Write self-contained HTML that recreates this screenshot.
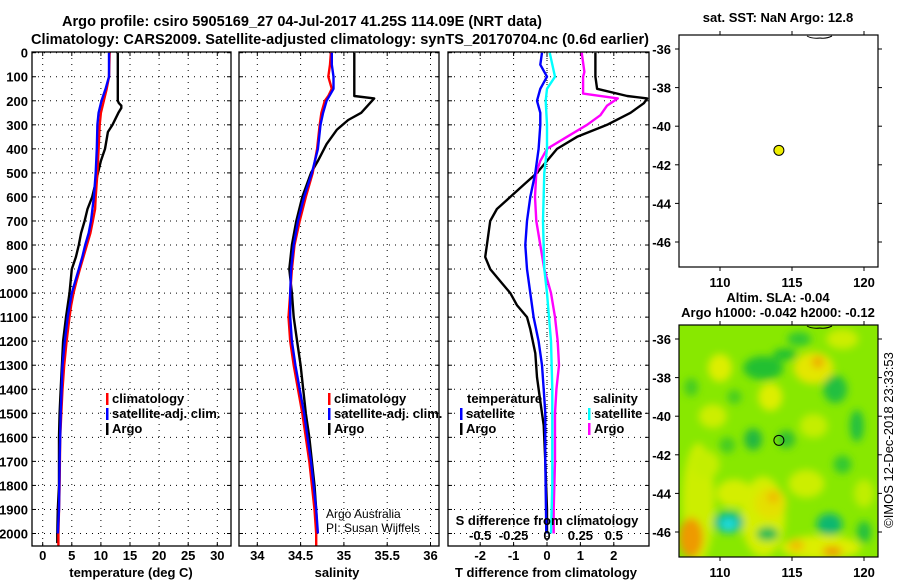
<!DOCTYPE html>
<html><head><meta charset="utf-8">
<style>
html,body{margin:0;padding:0;background:#fff;}
svg{display:block;font-family:"Liberation Sans",sans-serif;font-weight:bold;}
</style></head>
<body>
<svg id="c" width="900" height="580" viewBox="0 0 900 580" xmlns="http://www.w3.org/2000/svg">
<defs>
<filter id="blur" x="-20%" y="-20%" width="140%" height="140%"><feGaussianBlur stdDeviation="4"/></filter>
<clipPath id="clip1"><rect x="32" y="52" width="199" height="494"/></clipPath>
<clipPath id="clip2"><rect x="239" y="52" width="200" height="494"/></clipPath>
<clipPath id="clip3"><rect x="448" y="52" width="201" height="494"/></clipPath>
<clipPath id="clipmap"><rect x="679" y="325" width="199" height="232"/></clipPath>
</defs>
<text x="302" y="26" font-size="14.5" text-anchor="middle" textLength="480">Argo profile: csiro 5905169_27 04-Jul-2017 41.25S 114.09E (NRT data)</text>
<text x="340" y="44" font-size="14.5" text-anchor="middle" textLength="618">Climatology: CARS2009. Satellite-adjusted climatology: synTS_20170704.nc (0.6d earlier)</text>
<g id="g"></g>
</svg>
<script>
// ---------- data (depth in m) ----------
const tArgoDepth = [0,100,150,200,210,220,230,250,300,330,400,450,500,550,600,650,700,750,800,850,900,1000,1100,1200,1300,1400,1500,1600,1700,1800,1900,2000,2040];
const tArgo      = [12.9,12.9,12.9,12.9,13.1,13.5,13.5,13.0,12.0,11.2,10.7,10.0,9.5,9.0,8.5,7.7,7.2,6.6,6.2,5.7,5.0,4.6,4.0,3.5,3.3,3.1,2.9,2.8,2.8,2.8,2.6,2.5,2.5];
const tClimDepth = [0,100,150,200,250,300,400,500,600,650,700,750,800,850,900,950,1000,1050,1100,1200,1300,1400,1500,1600,1800,2000,2050];
const tClim      = [11.5,11.4,11.0,10.5,10.0,9.8,9.6,9.4,9.1,9.0,8.6,8.2,7.6,7.0,6.4,5.8,5.3,4.9,4.6,4.1,3.7,3.4,3.2,3.0,2.9,2.7,2.7];
const tSatDepth  = [0,100,150,200,250,300,400,500,600,700,750,800,850,900,950,1000,1100,1200,1300,1500,1700,1900,2000];
const tSat       = [11.4,11.4,10.8,10.1,9.6,9.4,9.3,9.1,8.8,8.3,7.9,7.3,6.8,6.2,5.6,5.0,4.3,3.8,3.4,3.1,2.9,2.8,2.6];

const sArgoDepth = [0,180,190,210,250,280,320,380,450,500,600,700,800,900,1000,1100,1200,1300,1400,1500,1600,1700,1800,1900,2000];
const sArgo      = [35.12,35.12,35.35,35.3,35.2,35.05,34.92,34.8,34.7,34.62,34.52,34.45,34.4,34.37,34.4,34.42,34.46,34.5,34.53,34.56,34.6,34.63,34.66,34.68,34.69];
const sClimDepth = [0,50,100,150,180,200,250,300,400,500,600,700,800,900,1000,1100,1200,1300,1400,1500,1600,1700,1800,1900,2000,2050];
const sClim      = [34.85,34.84,34.82,34.86,34.82,34.78,34.74,34.72,34.69,34.64,34.56,34.49,34.43,34.4,34.38,34.36,34.38,34.42,34.47,34.52,34.56,34.6,34.63,34.66,34.68,34.68];
const sSatDepth  = [0,50,100,150,200,250,300,400,500,600,700,800,900,1000,1100,1200,1300,1400,1500,1600,1700,1800,1900,2000];
const sSat       = [34.86,34.86,34.88,34.88,34.8,34.76,34.73,34.7,34.63,34.54,34.47,34.42,34.39,34.38,34.38,34.4,34.44,34.49,34.54,34.58,34.62,34.65,34.68,34.7];

const dtArgoDepth = [0,100,150,180,190,210,250,300,350,400,450,500,550,650,700,800,850,900,950,1000,1050,1100,1150,1250,1350,1450,1550,1700,1900,2000];
const dtArgo      = [1.45,1.45,1.5,2.4,3.0,2.9,2.5,1.8,0.9,0.3,0.0,-0.3,-0.7,-1.5,-1.7,-1.8,-1.85,-1.7,-1.4,-1.1,-0.9,-0.6,-0.5,-0.35,-0.3,-0.2,-0.1,-0.05,0.0,0.0];
const dtSatDepth  = [0,50,100,150,200,250,300,400,500,600,700,800,900,1000,1100,1200,1300,1400,1500,1700,2000];
const dtSat       = [-0.15,-0.2,0.0,-0.2,-0.3,-0.2,-0.2,-0.25,-0.35,-0.5,-0.6,-0.65,-0.6,-0.5,-0.4,-0.25,-0.15,-0.1,-0.05,-0.05,-0.02];
const dsSatDepth  = [0,100,150,200,300,400,500,700,900,1000,1200,1400,1600,1800,2000];
const dsSat       = [0.02,0.06,0.0,-0.01,0.0,0.0,-0.02,-0.03,-0.02,0.0,0.03,0.04,0.04,0.04,0.03];
const dsArgoDepth = [0,80,100,170,190,220,260,300,350,400,450,500,600,700,800,900,1000,1100,1200,1300,1400,1500,1700,1900,2000];
const dsArgo      = [0.26,0.28,0.27,0.27,0.53,0.45,0.4,0.3,0.15,0.0,-0.05,-0.08,-0.09,-0.08,-0.05,-0.02,0.03,0.06,0.08,0.09,0.07,0.06,0.06,0.05,0.05];

const depthTicks = [0,100,200,300,400,500,600,700,800,900,1000,1100,1200,1300,1400,1500,1600,1700,1800,1900,2000];
const tempTicks = [0,5,10,15,20,25,30];
const salTicks = [34,34.5,35,35.5,36];
const salTickLabels = ["34","34.5","35","35.5","36"];
const dtTicks = [-2,-1,0,1,2];
const dsTicks = [-0.5,-0.25,0,0.25,0.5];
const dsTickLabels = ["-0.5","-0.25","0","0.25","0.5"];
const latTicks = [-36,-38,-40,-42,-44,-46];
const lonTicks = [110,115,120];
const floatLon = 114.09, floatLat = -41.25;

// ---------- axes ----------
const TOP=52, BOT=546;
const yD = d => 52.7 + d*0.2404;
const xT = t => 42.7 + t*5.82;
const xS = s => 257.3 + (s-34)*86.6;
const xDT = t => 547 + t*33.4;
const xDS = s => 547 + s*133.6;
const xLon = l => 720 + (l-110)*14.4;
const yLat1 = a => 49 + (-36-a)*19.3;
const yLat2 = a => 339 + (-36-a)*19.3;

const NS="http://www.w3.org/2000/svg";
const G=document.getElementById('g');
function el(tag,attrs,parent){const e=document.createElementNS(NS,tag);for(const k in attrs)e.setAttribute(k,attrs[k]);(parent||G).appendChild(e);return e;}
function txt(x,y,s,size,anchor,parent){const e=el('text',{x:x,y:y,'font-size':size,'text-anchor':anchor||'start'},parent);e.textContent=s;return e;}

function frame(x0,x1,name){
  const r=el('rect',{x:x0,y:TOP,width:x1-x0,height:BOT-TOP,fill:'none',stroke:'#000','stroke-width':1.3});
  
  
}
function hgrid(x0,x1){
  depthTicks.forEach(d=>{
    const y=yD(d);
    el('line',{x1:x0,x2:x1,y1:y,y2:y,stroke:'#000','stroke-width':1,'stroke-dasharray':'1,5'});
    el('line',{x1:x0,x2:x0+4,y1:y,y2:y,stroke:'#000'});
    el('line',{x1:x1-4,x2:x1,y1:y,y2:y,stroke:'#000'});
  });
}
function vgrid(vals,fx){
  vals.forEach(v=>{
    const x=fx(v);
    el('line',{x1:x,x2:x,y1:TOP,y2:BOT,stroke:'#000','stroke-width':1,'stroke-dasharray':'1,5'});
    el('line',{x1:x,x2:x,y1:TOP,y2:TOP+4,stroke:'#000'});
    el('line',{x1:x,x2:x,y1:BOT-4,y2:BOT,stroke:'#000'});
  });
}
function profile(depths,vals,fx,color,clip,name){
  let pts=[];
  for(let i=0;i<depths.length;i++){pts.push(fx(vals[i]).toFixed(1)+','+yD(depths[i]).toFixed(1));}
  const p=el('polyline',{points:pts.join(' '),fill:'none',stroke:color,'stroke-width':2.4,'stroke-linejoin':'round','clip-path':'url(#'+clip+')'});
  
  
}
function legend(x,y,color,label,name){
  el('rect',{x:x,y:y-10,width:2.5,height:12,fill:color});
  const t=txt(x+6,y,label,13);
  
  
}

// y axis labels
depthTicks.forEach(d=>{
  const t=txt(28,yD(d)+5,String(d),13,'end');
  
  
});

// Panel 1 temperature
hgrid(32,231); vgrid(tempTicks,xT);
profile(tArgoDepth,tArgo,xT,'#000','clip1','argo-temperature-line');
profile(tClimDepth,tClim,xT,'#ff0000','clip1','climatology-temperature-line');
profile(tSatDepth,tSat,xT,'#0000ff','clip1','satellite-temperature-line');
frame(32,231,'temperature-panel');
tempTicks.forEach(v=>{const t=txt(xT(v),560,String(v),13,'middle');});
{const t=txt(131,577,'temperature (deg C)',13,'middle');}
legend(106,403,'#ff0000','climatology','legend-climatology-temp');
legend(106,418,'#0000ff','satellite-adj. clim.','legend-satellite-temp');
legend(106,433,'#000','Argo','legend-argo-temp');

// Panel 2 salinity
hgrid(239,439); vgrid(salTicks,xS);
profile(sArgoDepth,sArgo,xS,'#000','clip2','argo-salinity-line');
profile(sClimDepth,sClim,xS,'#ff0000','clip2','climatology-salinity-line');
profile(sSatDepth,sSat,xS,'#0000ff','clip2','satellite-salinity-line');
frame(239,439,'salinity-panel');
salTicks.forEach((v,i)=>{const t=txt(xS(v),560,salTickLabels[i],13,'middle');});
{const t=txt(337,577,'salinity',13,'middle');}
legend(328,403,'#ff0000','climatology','legend-climatology-sal');
legend(328,418,'#0000ff','satellite-adj. clim.','legend-satellite-sal');
legend(328,433,'#000','Argo','legend-argo-sal');
{const t=el('text',{x:326,y:518,'font-size':12,'font-weight':'normal'});t.textContent='Argo Australia';}
{const t=el('text',{x:326,y:532,'font-size':12,'font-weight':'normal'});t.textContent='PI: Susan Wijffels';}

// Panel 3 differences
hgrid(448,649); vgrid(dtTicks,xDT);
el('line',{x1:547,x2:547,y1:TOP,y2:BOT,stroke:'#000','stroke-width':1,'stroke-dasharray':'1,3'});
profile(dtArgoDepth,dtArgo,xDT,'#000','clip3','argo-temp-diff-line');
profile(dsArgoDepth,dsArgo,xDS,'#ff00ff','clip3','argo-sal-diff-line');
profile(dtSatDepth,dtSat,xDT,'#0000ff','clip3','satellite-temp-diff-line');
profile(dsSatDepth,dsSat,xDS,'#00ffff','clip3','satellite-sal-diff-line');
frame(448,649,'difference-panel');
{const t=txt(467,403,'temperature',13);}
legend(460,418,'#0000ff','satellite','legend-satellite-tdiff');
legend(460,433,'#000','Argo','legend-argo-tdiff');
{const t=txt(593,403,'salinity',13);}
legend(588,418,'#00ffff','satellite','legend-satellite-sdiff');
legend(588,433,'#ff00ff','Argo','legend-argo-sdiff');
{const t=txt(547,525,'S difference from climatology',13,'middle');}
dsTicks.forEach((v,i)=>{const t=txt(xDS(v),540,dsTickLabels[i],13,'middle');});
dtTicks.forEach(v=>{const t=txt(xDT(v),560,String(v),13,'middle');});
{const t=txt(546,577,'T difference from climatology',13,'middle');}

// ---------- maps ----------
function mapAxes(y0,y1,yLat,name){
  const r=el('rect',{x:679,y:y0,width:199,height:y1-y0,fill:'none',stroke:'#000','stroke-width':1.2});
  
  
  latTicks.forEach(a=>{
    const y=yLat(a);
    el('line',{x1:675,x2:679,y1:y,y2:y,stroke:'#000'});
    el('line',{x1:878,x2:882,y1:y,y2:y,stroke:'#000'});
    const t=txt(671,y+5,String(a),13,'end');
    
    
  });
  lonTicks.forEach(l=>{
    const x=xLon(l);
    el('line',{x1:x,x2:x,y1:y0-4,y2:y0,stroke:'#000'});
    el('line',{x1:x,x2:x,y1:y1,y2:y1+4,stroke:'#000'});
    const t=txt(x,y1+20,String(l),13,'middle');
    
    
  });
}
// SST map
{const t=txt(778,22,'sat. SST: NaN Argo: 12.8',13,'middle');}
el('path',{d:'M807 36 Q812 39 820 38 Q826 39 832 36',fill:'none',stroke:'#000','stroke-width':1});
mapAxes(35,267,yLat1,'sst-map');
{const c=el('circle',{cx:xLon(floatLon),cy:yLat1(floatLat),r:5,fill:'#eeee00',stroke:'#000','stroke-width':1});}

// SLA map
{const t=txt(778,302,'Altim. SLA: -0.04',13,'middle');}
{const t=txt(778,317,'Argo h1000: -0.042 h2000: -0.12',13,'middle');}
const hm=el('g',{'clip-path':'url(#clipmap)'});


el('rect',{x:679,y:325,width:199,height:232,fill:'#88e800'},hm);
const fb=el('g',{filter:'url(#blur)'},hm);
const blobs=[
 [108.5,-44.5,16,60,'#ccee00'],[113,-45.2,22,40,'#d4ee00'],[117,-46.8,40,12,'#ddee00'],
 [110,-37.5,12,14,'#ddee00'],[109.5,-40,14,12,'#ccee00'],[113.5,-39,12,14,'#ddee00'],[116.5,-37.5,20,16,'#e4e600'],
 [118.5,-36,16,10,'#ccee00'],[111,-44,18,14,'#d4ee00'],[113.5,-44.5,16,16,'#e4e000'],[116,-43.5,18,14,'#ccee00'],
 [116.5,-40.5,14,12,'#c4ee00'],[120,-44,10,14,'#c0ee00'],[109,-42.5,14,14,'#c4ee00'],
 [113,-37.5,20,12,'#22c030'],[115.5,-36,12,7,'#33c830'],[118,-38.6,12,14,'#22c040'],[112.3,-41.2,9,11,'#22b840'],[114.6,-41.2,9,9,'#33c030'],
 [119.5,-40.5,7,16,'#22c040'],[118.5,-42.5,9,9,'#33c830'],[111,-39,7,7,'#44cc20'],[108,-38.5,7,9,'#44cc20'],[120,-46,7,11,'#22c040'],
 [114.5,-36.8,12,6,'#22c030'],[110.5,-41.5,8,8,'#44cc20'],
 [108,-46.3,12,20,'#ee9a00'],[116.8,-37.2,6,6,'#eeaa00'],[113.7,-44.2,6,6,'#eebb00'],[115.3,-46.7,8,6,'#eec000'],[117.8,-47,10,5,'#ee9a00'],
 [110.6,-45.5,15,11,'#11bb88'],[113.3,-46.1,11,7,'#22bb55'],[117.6,-45.6,13,11,'#11b870'],[110.6,-45.6,8,6,'#22dddd']
];
blobs.forEach(b=>{el('ellipse',{cx:xLon(b[0]),cy:yLat2(b[1]),rx:b[2],ry:b[3],fill:b[4]},fb);});
el('path',{d:'M807 326 Q812 329 820 328 Q826 329 832 326',fill:'none',stroke:'#000','stroke-width':1},hm);
mapAxes(325,557,yLat2,'sla-map');
{const c=el('circle',{cx:xLon(floatLon),cy:yLat2(floatLat),r:5,fill:'none',stroke:'#000','stroke-width':1});}
{const t=el('text',{x:0,y:0,'font-size':13,'font-weight':'normal','text-anchor':'middle',transform:'translate(893,440) rotate(-90)'});t.textContent='©IMOS 12-Dec-2018 23:33:53';}
</script>
</body></html>
